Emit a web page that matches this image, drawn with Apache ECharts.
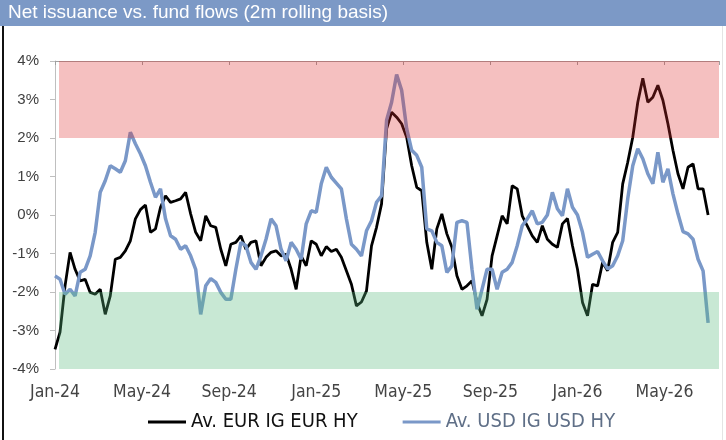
<!DOCTYPE html>
<html><head><meta charset="utf-8">
<script src="https://cdn.jsdelivr.net/npm/echarts@6/dist/echarts.min.js"></script>
<style>html,body{margin:0;padding:0;background:#fff}#c{width:726px;height:440px}</style>
</head><body><div id="c"></div>
<script>
const titleText = 'Net issuance vs. fund flows (2m rolling basis)';
const seriesNames = ['Av. EUR IG EUR HY', 'Av. USD IG USD HY'];
const monthNames = ['Jan','Feb','Mar','Apr','May','Jun','Jul','Aug','Sep','Oct','Nov','Dec'];
const startYear = 2024;
const weeksPerMonth = 52 / 12;
const xMonthsMax = 30.5;
const xTickStepMonths = 4;
const yMin = -4, yMax = 4, yStep = 1;
const bandLow = [2, -4];
const bandHigh = [4, -2];

// weekly values, % (from Jan-24)
const eurValues = [
 -3.49,-3.04,-1.84,-0.97,-1.41,-1.71,-1.67,-2.01,-2.06,-1.93,
 -2.58,-2.10,-1.15,-1.10,-0.93,-0.67,-0.10,0.14,0.26,-0.45,
 -0.36,0.20,0.50,0.33,0.37,0.42,0.59,0.03,-0.45,-0.67,
 -0.02,-0.28,-0.32,-0.89,-1.32,-0.76,-0.71,-0.54,-0.89,-0.71,
 -0.67,-1.32,-1.10,-0.97,-0.93,-1.06,-1.02,-1.41,-1.93,-1.06,
 -1.32,-0.67,-0.76,-1.06,-0.82,-0.95,-0.89,-1.10,-1.45,-1.80,
 -2.36,-2.26,-1.97,-0.80,-0.32,0.29,2.24,2.67,2.54,2.37,
 2.02,1.28,0.72,0.63,-0.71,-1.41,-0.36,0.03,-0.49,-0.84,
 -1.58,-1.93,-1.84,-1.71,-2.27,-2.62,-2.19,-1.06,-0.54,-0.02,
 -0.23,0.76,0.68,-0.02,-0.28,-0.54,-0.71,-0.28,-0.63,-0.76,
 -0.84,-0.23,-0.09,-0.80,-1.41,-2.27,-2.62,-1.80,-1.84,-1.23,
 -1.45,-0.71,-0.45,0.81,1.37,2.02,2.93,3.55,2.93,3.06,
 3.37,2.98,2.37,1.68,1.07,0.68,1.24,1.33,0.68,0.68,
 0.00
];
const usdValues = [
 -1.58,-1.67,-2.06,-1.93,-2.10,-1.49,-1.41,-1.06,-0.45,0.59,
 0.89,1.28,1.20,1.11,1.41,2.15,1.85,1.59,1.28,0.85,
 0.46,0.68,-0.10,-0.54,-0.63,-0.89,-0.80,-1.06,-1.41,-2.58,
 -1.84,-1.65,-1.75,-2.01,-2.19,-2.19,-1.41,-0.71,-0.80,-1.23,
 -1.41,-1.06,-0.63,-0.10,-0.28,-0.89,-1.19,-0.71,-0.89,-1.15,
 -0.23,0.11,0.07,0.81,1.24,0.98,0.83,0.68,-0.10,-0.76,
 -0.89,-1.06,-0.41,-0.15,0.33,0.50,2.46,2.93,3.65,3.24,
 2.24,1.68,1.55,1.24,-0.36,-0.41,-0.71,-0.80,-1.49,-1.32,
 -0.19,-0.15,-0.19,-1.41,-2.45,-1.93,-1.41,-1.41,-1.93,-1.49,
 -1.41,-1.23,-0.80,-0.28,-0.10,0.11,-0.23,-0.19,0.00,0.59,
 0.16,-0.02,0.68,0.20,0.00,-0.45,-1.10,-1.02,-0.95,-1.19,
 -1.40,-1.32,-1.06,-0.67,0.42,1.28,1.72,1.46,1.07,0.81,
 1.63,0.85,1.20,0.55,0.03,-0.43,-0.49,-0.63,-1.15,-1.45,
 -2.80
];

const narrow = "'Liberation Sans Narrow','DejaVu Sans Condensed','Arial Narrow',sans-serif";
const regular = "'Liberation Sans',Arial,sans-serif";

function monthLabel(v) {
  const m = Math.round(v);
  return monthNames[m % 12] + '-' + String((startYear + Math.floor(m / 12)) % 100).padStart(2, '0');
}

const chart = echarts.init(document.getElementById('c'), null, {renderer: 'canvas'});
chart.setOption({
  animation: false,
  backgroundColor: '#ffffff',
  graphic: [
    {type: 'rect', left: 0, top: 0, shape: {width: 726, height: 26}, style: {fill: '#7C99C6'}, z: 0},
    {type: 'text', left: 8, top: 3, style: {text: titleText, fill: '#ffffff', font: "19px " + regular}, z: 1},
    {type: 'rect', left: 2, top: 26, shape: {width: 2, height: 414}, style: {fill: '#111111'}, z: 1},
    {type: 'rect', left: 722, top: 26, shape: {width: 1, height: 414}, style: {fill: '#e4e4e4'}, z: 1}
  ],
  grid: {left: 55, right: 7, top: 61, bottom: 71, containLabel: false},
  legend: {
    left: 148, top: 412, padding: 0,
    icon: 'rect', itemWidth: 38, itemHeight: 3, itemGap: 45,
    textStyle: {fontFamily: narrow, fontSize: 20},
    data: [
      {name: seriesNames[0], textStyle: {color: '#111111'}},
      {name: seriesNames[1], textStyle: {color: '#5f6f87'}}
    ]
  },
  xAxis: [
    {
      type: 'value', position: 'bottom', min: 0, max: xMonthsMax, interval: xTickStepMonths,
      axisLine: {show: false}, axisTick: {show: false}, splitLine: {show: false},
      axisLabel: {margin: 14, color: '#444444', fontFamily: narrow, fontSize: 17.5,
        showMaxLabel: false, formatter: monthLabel}
    },
    {
      type: 'value', position: 'top', min: 0, max: xMonthsMax, interval: xTickStepMonths,
      axisLine: {show: true, onZero: true, lineStyle: {color: '#a0a0a0', width: 1}},
      axisTick: {show: true, inside: true, length: 4, lineStyle: {color: '#a0a0a0'}},
      axisLabel: {show: false}, splitLine: {show: false}
    }
  ],
  yAxis: {
    type: 'value', min: yMin, max: yMax, interval: yStep,
    axisLine: {show: true, lineStyle: {color: '#bfbfbf'}},
    axisTick: {show: true, length: 5, lineStyle: {color: '#bfbfbf'}},
    splitLine: {show: false},
    axisLabel: {margin: 16, color: '#404040', fontFamily: regular, fontSize: 15,
      formatter: v => v + '%'}
  },
  series: [
    {
      name: seriesNames[0], type: 'line', xAxisIndex: 0, showSymbol: false, symbol: 'none', z: 2,
      color: '#000000', lineStyle: {width: 2.8, color: '#000000'},
      data: eurValues.map((v, i) => [i / weeksPerMonth, v])
    },
    {
      name: seriesNames[1], type: 'line', xAxisIndex: 0, showSymbol: false, symbol: 'none', z: 3,
      color: '#7A98C8', lineStyle: {width: 3.5, color: '#7A98C8'},
      data: usdValues.map((v, i) => [i / weeksPerMonth, v])
    },
    {
      name: 'bands', type: 'custom', xAxisIndex: 0, z: 10, silent: true,
      encode: {x: 0, y: [1, 2]},
      data: bandLow.map((lo, k) => [0, lo, bandHigh[k]]),
      renderItem: (params, api) => {
        const cs = params.coordSys;
        const top = api.coord([0, api.value(2)]);
        const bot = api.coord([0, api.value(1)]);
        return {
          type: 'rect',
          shape: {x: cs.x + 4, y: top[1], width: cs.width - 4, height: bot[1] - top[1]},
          style: {fill: params.dataIndex === 0 ? 'rgba(222,45,45,0.3)' : 'rgba(88,184,124,0.33)'}
        };
      }
    }
  ]
});
</script></body></html>
